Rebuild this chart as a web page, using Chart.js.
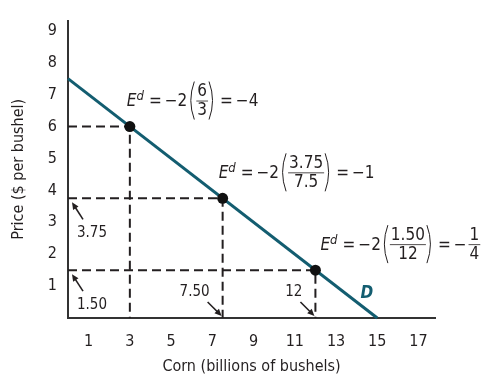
<!DOCTYPE html>
<html>
<head>
<meta charset="utf-8">
<script src="https://cdn.jsdelivr.net/npm/chart.js@4"></script>
<style>
  html, body { margin: 0; padding: 0; background: #fff; }
  #wrap { width: 483px; height: 377px; }
</style>
</head>
<body>
<div id="wrap"><canvas id="demandChart"></canvas></div>
<script>
// demand curve end points (quantity in billions of bushels, price in $)
const demandQ = [0, 15];
const demandP = [7.5, 0];

// points where elasticity is worked out
const quantities = [3, 7.5, 12];
const prices = [6, 3.75, 1.5];
const fracTop = ["6", "3.75", "1.50"];
const fracBottom = ["3", "7.5", "12"];
const results = ["−4", "−1", "−1/4"];

// values called out with arrows on each axis
const priceMarks = [3.75, 1.5];
const priceMarkLabels = ["3.75", "1.50"];
const qtyMarks = [7.5, 12];
const qtyMarkLabels = ["7.50", "12"];

const xTicks = [1, 3, 5, 7, 9, 11, 13, 15, 17];
const yTicks = [1, 2, 3, 4, 5, 6, 7, 8, 9];

const FONT = "'Liberation Sans Narrow', 'DejaVu Sans Condensed', 'Arial Narrow', sans-serif";
const INK = "#231f20";
const TEAL = "#135d70";

const guideSets = quantities.map((q, i) => ({
  data: [{ x: 0, y: prices[i] }, { x: q, y: prices[i] }, { x: q, y: 0 }],
  showLine: true,
  borderColor: INK,
  borderWidth: 2,
  borderDash: [9, 5],
  pointRadius: 0,
  clip: false,
  order: 3
}));

function arrow(ctx, x1, y1, x2, y2) {
  const a = Math.atan2(y2 - y1, x2 - x1);
  const len = 7, w = 3.2;
  ctx.beginPath();
  ctx.moveTo(x1, y1);
  ctx.lineTo(x2 - Math.cos(a) * len * 0.8, y2 - Math.sin(a) * len * 0.8);
  ctx.stroke();
  ctx.beginPath();
  ctx.moveTo(x2, y2);
  ctx.lineTo(x2 - Math.cos(a) * len - Math.sin(a) * w, y2 - Math.sin(a) * len + Math.cos(a) * w);
  ctx.lineTo(x2 - Math.cos(a) * len + Math.sin(a) * w, y2 - Math.sin(a) * len - Math.cos(a) * w);
  ctx.closePath();
  ctx.fill();
}

function paren(ctx, x, top, bottom, left) {
  const mid = (top + bottom) / 2;
  ctx.lineWidth = 1;
  ctx.beginPath();
  if (left) {
    ctx.moveTo(x + 5, top);
    ctx.quadraticCurveTo(x - 2, mid, x + 5, bottom);
  } else {
    ctx.moveTo(x, top);
    ctx.quadraticCurveTo(x + 7, mid, x, bottom);
  }
  ctx.stroke();
}

function fracWidth(ctx, top, bottom) {
  ctx.font = "17px " + FONT;
  return Math.max(ctx.measureText(top).width, ctx.measureText(bottom).width);
}

// stacked numerator / denominator, starting at x; returns its width
function fraction(ctx, x, barY, top, bottom) {
  const w = fracWidth(ctx, top, bottom);
  const cx = x + w / 2;
  ctx.textAlign = "center";
  ctx.fillText(top, cx, barY - 9);
  ctx.fillText(bottom, cx, barY + 10);
  ctx.lineWidth = 0.8;
  ctx.beginPath();
  ctx.moveTo(x - 1, barY + 0.5);
  ctx.lineTo(x + w + 1, barY + 0.5);
  ctx.stroke();
  ctx.textAlign = "left";
  return w;
}

function equation(ctx, x, mid, top, bottom, result) {
  const barY = mid - 1;
  const main = "17px " + FONT;
  ctx.textAlign = "left";
  ctx.textBaseline = "middle";
  ctx.font = "italic 17px " + FONT;
  ctx.fillText("E", x, mid);
  x += ctx.measureText("E").width;
  ctx.font = "italic 13px " + FONT;
  ctx.fillText("d", x, mid - 5);
  x += ctx.measureText("d").width + 5;
  ctx.font = main;
  ctx.fillText("=", x, mid);
  x += ctx.measureText("=").width + 3;
  ctx.fillText("−2", x, mid);
  x += ctx.measureText("−2").width + 2;
  paren(ctx, x, barY - 19, barY + 19, true);
  x += 8;
  x += fraction(ctx, x, barY, top, bottom) + 2;
  paren(ctx, x, barY - 19, barY + 19, false);
  x += 11;
  ctx.font = main;
  ctx.fillText("=", x, mid);
  x += ctx.measureText("=").width + 3;
  if (result.includes("/")) {
    const [n, d] = result.slice(1).split("/");
    ctx.fillText("−", x, mid);
    x += ctx.measureText("−").width + 3;
    fraction(ctx, x, barY, n, d);
  } else {
    ctx.fillText(result, x, mid);
  }
}

const annotations = {
  id: "annotations",
  afterDatasetsDraw(chart) {
    const { ctx, scales: { x, y } } = chart;
    const left = x.getPixelForValue(0);
    const base = y.getPixelForValue(0);
    ctx.save();
    ctx.fillStyle = INK;
    ctx.strokeStyle = INK;

    // elasticity formulas beside each point
    const shift = [-3, -4, 5];
    quantities.forEach((q, i) => {
      const px = x.getPixelForValue(q);
      const py = y.getPixelForValue(prices[i]);
      equation(ctx, px + shift[i], py - 25, fracTop[i], fracBottom[i], results[i]);
    });

    // price call-outs on the vertical axis
    ctx.lineWidth = 1.6;
    ctx.font = "15px " + FONT;
    ctx.textBaseline = "middle";
    priceMarks.forEach((p, i) => {
      const py = y.getPixelForValue(p);
      arrow(ctx, left + 15, py + 21, left + 4, py + 4);
      ctx.textAlign = "left";
      ctx.fillText(priceMarkLabels[i], left + 9, py + 35);
    });

    // quantity call-outs on the horizontal axis
    qtyMarks.forEach((q, i) => {
      const qx = x.getPixelForValue(q);
      arrow(ctx, qx - 15, base - 16, qx - 1, base - 2);
      ctx.textAlign = "right";
      ctx.fillText(qtyMarkLabels[i], qx - 13, base - 26);
    });

    // curve name
    ctx.fillStyle = TEAL;
    ctx.font = "italic bold 17px " + FONT;
    ctx.textAlign = "center";
    ctx.fillText("D", x.getPixelForValue(14.5), y.getPixelForValue(0.75));
    ctx.restore();
  }
};

new Chart(document.getElementById("demandChart"), {
  type: "scatter",
  data: {
    datasets: [
      {
        data: quantities.map((q, i) => ({ x: q, y: prices[i] })),
        pointRadius: 5.5,
        pointBackgroundColor: "#111",
        pointBorderWidth: 0,
        clip: false,
        order: 1
      },
      {
        data: demandQ.map((q, i) => ({ x: q, y: demandP[i] })),
        showLine: true,
        borderColor: TEAL,
        borderWidth: 3,
        pointRadius: 0,
        clip: false,
        order: 2
      },
      ...guideSets
    ]
  },
  options: {
    responsive: true,
    maintainAspectRatio: false,
    animation: false,
    events: [],
    layout: { padding: { top: 15, right: 48, left: 0, bottom: 0 } },
    plugins: { legend: { display: false }, tooltip: { enabled: false } },
    scales: {
      x: {
        type: "linear",
        min: 0,
        max: 17.8,
        afterBuildTicks: s => { s.ticks = xTicks.map(v => ({ value: v })); },
        afterFit: s => { s.height = 59; },
        grid: { display: false, drawTicks: false },
        border: { color: "#333", width: 2 },
        ticks: { color: INK, padding: 14, font: { family: FONT, size: 16 } },
        title: {
          display: true,
          text: "Corn (billions of bushels)",
          color: INK,
          padding: { top: 0, bottom: 1 },
          font: { family: FONT, size: 16 }
        }
      },
      y: {
        type: "linear",
        min: 0,
        max: 9.32,
        afterBuildTicks: s => { s.ticks = yTicks.map(v => ({ value: v })); },
        afterFit: s => { s.width = 68; },
        grid: { display: false, drawTicks: false },
        border: { color: "#333", width: 2 },
        ticks: { color: INK, padding: 11, font: { family: FONT, size: 16 } },
        title: {
          display: true,
          text: "Price ($ per bushel)",
          color: INK,
          padding: { top: 9, bottom: 0 },
          font: { family: FONT, size: 16 }
        }
      }
    }
  },
  plugins: [annotations]
});
</script>
</body>
</html>
